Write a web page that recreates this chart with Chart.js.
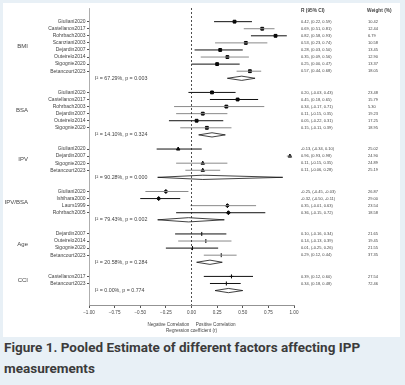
<!DOCTYPE html>
<html>
<head>
<meta charset="utf-8">
<script src="https://cdn.jsdelivr.net/npm/chart.js@4/dist/chart.umd.min.js"></script>
<style>
  html, body { margin: 0; padding: 0; }
  body { width: 405px; height: 385px; background: #e8f0f6; position: relative; overflow: hidden; }
  #panel { position: absolute; left: 3px; top: 3px; width: 397px; height: 334px; background: #fff; }
  #caption { position: absolute; left: 4px; top: 337px; font-family: Roboto, 'Open Sans', sans-serif; font-weight: 700;
    font-size: 13.5px; line-height: 21px; color: #3b3b3b; white-space: nowrap; }
</style>
</head>
<body>
<div id="panel"><canvas id="forest" width="397" height="334"></canvas></div>
<div id="caption">Figure 1. Pooled Estimate of different factors affecting IPP<br>measurements</div>
<script>
// factors and how many studies each one has
const groupNames = ['BMI', 'BSA', 'IPV', 'IPV/BSA', 'Age', 'CCI'];
const groupCounts = [8, 6, 4, 4, 4, 2];

const studyNames = [
  'Giuliani2020', 'Castellanos2017', 'Rohrbach2003', 'Scanziani2003', 'Dejardin2007', 'Outeirelo2014', 'Sigognie2020', 'Betancourt2023',
  'Giuliani2020', 'Castellanos2017', 'Rohrbach2003', 'Dejardin2007', 'Outeirelo2014', 'Sigognie2020',
  'Giuliani2020', 'Dejardin2007', 'Sigognie2020', 'Betancourt2023',
  'Giuliani2020', 'Ishihara2000', 'Laurs1999', 'Rohrbach2005',
  'Dejardin2007', 'Outeirelo2014', 'Sigognie2020', 'Betancourt2023',
  'Castellanos2017', 'Betancourt2023'
];
const studyR = [0.42, 0.69, 0.82, 0.53, 0.28, 0.35, 0.25, 0.57,
  0.20, 0.45, 0.34, 0.11, 0.05, 0.15,
  -0.13, 0.96, 0.11, 0.11,
  -0.25, -0.32, 0.35, 0.36,
  0.10, 0.14, 0.01, 0.29,
  0.39, 0.34];
const studyLow = [0.22, 0.51, 0.58, 0.23, 0.03, 0.09, -0.00, 0.44,
  -0.03, 0.18, -0.17, -0.15, -0.22, -0.11,
  -0.34, 0.93, -0.15, -0.06,
  -0.45, -0.50, -0.01, -0.15,
  -0.16, -0.13, -0.25, 0.12,
  0.12, 0.18];
const studyHigh = [0.59, 0.81, 0.93, 0.74, 0.50, 0.56, 0.47, 0.68,
  0.43, 0.65, 0.71, 0.35, 0.31, 0.39,
  0.10, 0.98, 0.35, 0.28,
  -0.03, -0.11, 0.63, 0.72,
  0.34, 0.39, 0.26, 0.44,
  0.60, 0.48];
const studyWeight = [10.42, 12.44, 6.79, 10.58, 13.45, 12.90, 13.37, 18.05,
  23.48, 15.79, 5.30, 19.23, 17.25, 18.95,
  25.02, 24.90, 24.89, 25.19,
  26.87, 29.00, 23.54, 18.58,
  21.65, 19.45, 21.55, 37.35,
  27.54, 72.46];

// pooled estimates (diamonds) and heterogeneity
const pooledR = [0.49, 0.20, 0.11, -0.03, 0.18, 0.36];
const pooledLow = [0.35, 0.07, -0.33, -0.33, 0.05, 0.23];
const pooledHigh = [0.62, 0.33, 0.89, 0.32, 0.30, 0.50];
const hetI2 = ['67.29', '14.10', '90.28', '79.43', '20.58', '0.00'];
const hetP = ['0.003', '0.324', '0.000', '0.002', '0.284', '0.774'];

const xTicks = [-1, -0.75, -0.5, -0.25, 0, 0.25, 0.5, 0.75, 1];

// styles
const markerStyle = ['rect', 'rect', 'triangle', 'rectRot', 'line', 'cross'];
const ciShade = ['k', 'g', 'k', 'g', 'k', 'g', 'k', 'g',
  'k', 'k', 'g', 'g', 'k', 'g',
  'k', 'g', 'g', 'g',
  'g', 'k', 'g', 'k',
  'k', 'g', 'k', 'g',
  'k', 'k'];
const shadeColor = { k: '#111', g: '#8a8a8a' };
const FONT = "'Liberation Sans', Arial, sans-serif";

// work out the row of every study / pooled line
const studyRow = [], studyGroupIdx = [], pooledRow = [], groupMid = [];
let row = 0, s = 0;
groupCounts.forEach((n, g) => {
  const first = row;
  for (let i = 0; i < n; i++) { studyRow.push(row); studyGroupIdx.push(g); row++; s++; }
  groupMid.push((first + row - 1) / 2);
  pooledRow.push(row);
  row += 2;
});
const rowLabels = {};
studyRow.forEach((r, i) => rowLabels[r] = studyNames[i]);

const datasets = [];
// zero reference line
datasets.push({
  data: [{ x: 0, y: -1.93 }, { x: 0, y: 40.04 }],
  showLine: true, borderColor: '#222', borderWidth: 0.8, borderDash: [2, 2], pointRadius: 0
});
// confidence intervals
studyNames.forEach((name, i) => {
  datasets.push({
    data: [{ x: studyLow[i], y: studyRow[i] }, { x: studyHigh[i], y: studyRow[i] }],
    showLine: true, borderColor: shadeColor[ciShade[i]], borderWidth: 1, pointRadius: 0
  });
});
// point estimates, one dataset per factor
groupNames.forEach((g, gi) => {
  const pts = [];
  studyR.forEach((r, i) => { if (studyGroupIdx[i] === gi) pts.push({ x: r, y: studyRow[i] }); });
  datasets.push({
    data: pts, showLine: false, pointStyle: markerStyle[gi], rotation: markerStyle[gi] === 'line' ? 90 : 0,
    pointRadius: 2, backgroundColor: '#000', borderColor: '#000', borderWidth: 1
  });
});
// pooled diamonds
groupNames.forEach((g, gi) => {
  const y = pooledRow[gi];
  datasets.push({
    data: [{ x: pooledLow[gi], y: y }, { x: pooledR[gi], y: y - 0.3 }, { x: pooledHigh[gi], y: y },
      { x: pooledR[gi], y: y + 0.3 }, { x: pooledLow[gi], y: y }],
    showLine: true, fill: 'shape', backgroundColor: '#fff', borderColor: '#111', borderWidth: 0.8,
    pointRadius: 0, tension: 0
  });
});

const textPlugin = {
  id: 'forestText',
  afterDraw(chart) {
    const c = chart.ctx, ys = chart.scales.y, xs = chart.scales.x;
    c.save();
    c.fillStyle = '#444';
    c.textBaseline = 'middle';
    // factor labels
    c.font = '6px ' + FONT;
    c.textAlign = 'right';
    groupNames.forEach((g, gi) => c.fillText(g, 25, ys.getPixelForValue(groupMid[gi])));
    // heterogeneity
    c.font = '5.3px ' + FONT;
    c.textAlign = 'left';
    groupNames.forEach((g, gi) => c.fillText('I\u00b2 = ' + hetI2[gi] + '%, p = ' + hetP[gi], 92, ys.getPixelForValue(pooledRow[gi])));
    // right columns
    c.font = 'bold 4.8px ' + FONT;
    c.fillText('R (95% CI)', 298, 7.5);
    c.fillText('Weight (%)', 364, 7.5);
    c.font = '4px ' + FONT;
    const f = v => (v < 0 ? '-' : '') + Math.abs(v).toFixed(2);
    studyNames.forEach((n, i) => {
      const y = ys.getPixelForValue(studyRow[i]);
      c.fillText(f(studyR[i]) + ', (' + f(studyLow[i]) + ', ' + f(studyHigh[i]) + ')', 298, y);
      c.fillText(studyWeight[i].toFixed(2), 365, y);
    });
    // axis title
    c.textAlign = 'center';
    c.font = '4.6px ' + FONT;
    const mid = (xs.left + xs.right) / 2;
    c.fillText('Negative Correlation     Positive Correlation', mid, 322);
    c.fillText('Regression coefficient (r)', mid, 328);
    c.restore();
  }
};

new Chart(document.getElementById('forest').getContext('2d'), {
  type: 'scatter',
  data: { datasets: datasets },
  options: {
    responsive: false,
    animation: false,
    layout: { padding: { left: 0, right: 106, top: 4, bottom: 0 } },
    plugins: { legend: { display: false }, tooltip: { enabled: false } },
    scales: {
      x: {
        type: 'linear', min: -1, max: 1,
        afterFit: sc => { sc.height = 32; },
        afterBuildTicks: sc => { sc.ticks = xTicks.map(v => ({ value: v })); },
        grid: { drawOnChartArea: false, tickLength: 3, color: '#555' },
        border: { color: '#777', width: 0.8 },
        ticks: {
          padding: 2, color: '#444', font: { size: 4.6, family: FONT },
          callback: v => (v < 0 ? '\u2212' : '') + Math.abs(v).toFixed(2)
        }
      },
      y: {
        type: 'linear', min: -1.93, max: 40.04, reverse: true,
        afterFit: sc => { sc.width = 86; },
        afterBuildTicks: sc => { sc.ticks = studyRow.map(v => ({ value: v })); },
        grid: { drawOnChartArea: false, tickLength: 2, color: '#555' },
        border: { color: '#999', width: 0.8 },
        ticks: {
          padding: 1.5, color: '#444', font: { size: 5, family: FONT },
          callback: v => rowLabels[v] || ''
        }
      }
    }
  },
  plugins: [textPlugin]
});
</script>
</body>
</html>
